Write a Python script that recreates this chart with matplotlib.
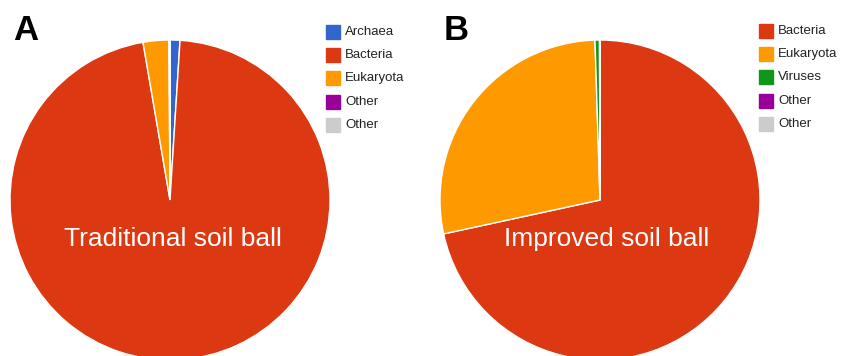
import matplotlib
matplotlib.use("Agg")
import matplotlib.pyplot as plt
from matplotlib.patches import Rectangle

plt.rcParams['font.family'] = ['Liberation Sans', 'DejaVu Sans']

# Google-chart style palette
RED = '#dc3912'
ORANGE = '#ff9900'
BLUE = '#3366cc'
GREEN = '#109618'
PURPLE = '#990099'
GREY = '#cccccc'

# panel A: traditional soil ball (% of reads)
labels_a = ['Archaea', 'Bacteria', 'Eukaryota', 'Other', 'Other']
values_a = [1.0, 96.3, 2.6, 0.05, 0.05]
colors_a = [BLUE, RED, ORANGE, PURPLE, GREY]

# panel B: improved soil ball (% of reads)
labels_b = ['Bacteria', 'Eukaryota', 'Viruses', 'Other', 'Other']
values_b = [71.6, 27.9, 0.45, 0.03, 0.02]
colors_b = [RED, ORANGE, GREEN, PURPLE, GREY]

W, H = 858, 356
fig = plt.figure(figsize=(W / 100, H / 100), dpi=100)


def px_axes(cx, cy, r):
    # axes square of side 2r centred on pixel (cx, cy) measured from top-left
    return fig.add_axes([(cx - r) / W, (H - cy - r) / H, 2 * r / W, 2 * r / H])


def draw_pie(cx, cy, values, colors, title, tx=0.02):
    ax = px_axes(cx, cy, 160)
    ax.pie(values, colors=colors, startangle=90, counterclock=False,
           radius=1, wedgeprops=dict(edgecolor='white', linewidth=1.0))
    ax.set_xlim(-1, 1)
    ax.set_ylim(-1, 1)
    ax.set_axis_off()
    ax.text(tx, -0.245, title, color='white', fontsize=19,
            ha='center', va='center')
    return ax


def draw_legend(x, y0, labels, colors):
    for i, (lab, col) in enumerate(zip(labels, colors)):
        y = y0 + i * 23.2
        fig.patches.append(Rectangle(((x) / W, (H - y - 7) / H), 14 / W, 14 / H,
                                     transform=fig.transFigure, color=col,
                                     figure=fig))
        fig.text((x + 19) / W, (H - y) / H, lab, fontsize=9.5,
                 color='#222222', ha='left', va='center')


draw_pie(170, 200, values_a, colors_a, 'Traditional soil ball')
draw_pie(600, 200, values_b, colors_b, 'Improved soil ball', tx=0.04)

draw_legend(326, 32, labels_a, colors_a)
draw_legend(759, 31, labels_b, colors_b)

fig.text(13 / W, (H - 30) / H, 'A', fontsize=25, fontweight='bold',
         ha='left', va='center')
fig.text(444 / W, (H - 30) / H, 'B', fontsize=25, fontweight='bold',
         ha='left', va='center')

fig.savefig('out.png', dpi=100, facecolor='white')
